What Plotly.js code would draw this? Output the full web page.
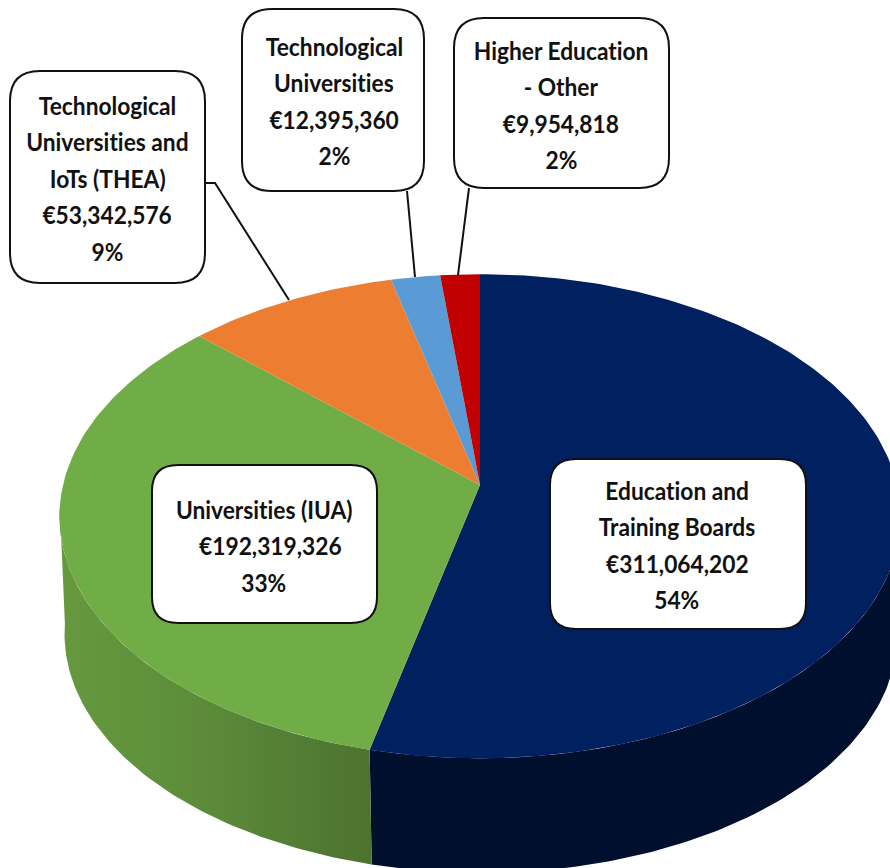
<!DOCTYPE html>
<html><head><meta charset="utf-8">
<script src="https://cdn.plot.ly/plotly-3.0.1.min.js"></script>
<style>html,body{margin:0;padding:0;background:#fff;overflow:hidden} text.annotation-text{font-variant-ligatures:none}</style>
</head><body><div id="chart" style="width:890px;height:868px"></div>
<script>
// ---- data ----
const categories = ["Education and Training Boards","Universities (IUA)","Technological Universities and IoTs (THEA)","Technological Universities","Higher Education - Other"];
const values = [311064202,192319326,53342576,12395360,9954818];
const labelLines = [["Education and","Training Boards"],["Universities (IUA)"],["Technological","Universities and","IoTs (THEA)"],["Technological","Universities"],["Higher Education","- Other"]];
// ---- styles ----
const topColors = ["#002060","#70AD47","#ED7D31","#5B9BD5","#C00000"];
const FONT = {family:'Lato,"Liberation Sans",sans-serif',size:25,color:"#111",weight:700};
const TEXT_SQUEEZE = 0.91;
// ---- layout of the callouts ----
const boxes = [[550,459,806,629],[152,465,377,623],[10,71,205,283],[242,9,424,191],[454,18,669,188]];
const lineCx = [677,264,107,334,561];
const lineFirstY = [490,509,105,46,50];
const lineGap = 36.4;
const leaders = [null,null,[[205,183],[215,183],[289,300]],[[407,191],[415,277]],[[469,188],[458,275]]];

// projection of the tilted disc onto the page
const K=0.129, P={cx:480,cy:485,a:417,b:238};
const B={cx:481,cy:603,a:413,b:235};
function proj(deg,q){const t=deg*Math.PI/180,u=Math.sin(t),v=Math.cos(t),w=1+K*v;return [q.cx+q.a*u/w,q.cy-q.b*v/w];}
const total=values.reduce((s,v)=>s+v,0);
const cum=[0];values.forEach(v=>cum.push(cum[cum.length-1]+v));
const angle=i=>cum[i]/total*360;
function arc(a0,a1,q){const n=Math.max(4,Math.ceil(Math.abs(a1-a0)));const o=[];for(let i=0;i<=n;i++)o.push(proj(a0+(a1-a0)*i/n,q));return o;}
function poly(pts,extra){return Object.assign({x:pts.map(p=>p[0]),y:pts.map(p=>p[1]),type:"scatter",mode:"lines",line:{width:0},fill:"toself",hoverinfo:"skip",showlegend:false},extra);}
const traces=[];
const wallEnd=265;
const navyWall=arc(angle(0)+95,angle(1),P).concat(arc(angle(1),angle(0)+95,B));
traces.push(poly(navyWall,{fillcolor:"#000F2E"}));
const greenWall=arc(angle(1),wallEnd,P).concat(arc(wallEnd,angle(1),B));
traces.push(poly(greenWall,{fillcolor:"#5E8F3C",fillgradient:{type:"horizontal",colorscale:[[0,"#66993F"],[0.45,"#5C8C39"],[1,"#4D7230"]]}}));
values.forEach((v,i)=>{
  const pts=[[P.cx,P.cy]].concat(arc(angle(i),angle(i+1),P));pts.push([P.cx,P.cy]);
  traces.push(poly(pts,{fillcolor:topColors[i],name:categories[i]}));
});
function rrect(b,r){const [x0,y0,x1,y1]=b;return `M${x0+r},${y0} L${x1-r},${y0} Q${x1},${y0} ${x1},${y0+r} L${x1},${y1-r} Q${x1},${y1} ${x1-r},${y1} L${x0+r},${y1} Q${x0},${y1} ${x0},${y1-r} L${x0},${y0+r} Q${x0},${y0} ${x0+r},${y0} Z`;}
const shapes=[],annotations=[];
const euro=v=>"€"+v.toLocaleString("en-US");
values.forEach((v,i)=>{
  if(leaders[i]){shapes.push({type:"path",layer:"above",path:"M"+leaders[i].map(p=>p.join(",")).join(" L"),line:{color:"#111",width:2}});}
  shapes.push({type:"path",layer:"above",path:rrect(boxes[i],i<2?26:30),fillcolor:"#fff",line:{color:"#111",width:2}});
  const lines=labelLines[i].concat([euro(v),Math.round(v/total*100)+"%"]);
  lines.forEach((t,j)=>{
    const dx=(i===1&&j===1)?6:0;
    annotations.push({x:lineCx[i]+dx,y:lineFirstY[i]+j*lineGap,xref:"x",yref:"y",text:t,showarrow:false,xanchor:"center",yanchor:"middle",font:FONT});
  });
});
Plotly.newPlot("chart",traces,{
  width:890,height:868,margin:{l:0,r:0,t:0,b:0},paper_bgcolor:"#fff",plot_bgcolor:"#fff",showlegend:false,
  xaxis:{range:[0,890],visible:false,fixedrange:true},
  yaxis:{range:[868,0],visible:false,fixedrange:true},
  shapes,annotations
},{displayModeBar:false,staticPlot:true}).then(gd=>{
  // Calibri-like narrow setting: condense each real text line about its own centre
  gd.querySelectorAll("text.annotation-text").forEach(t=>{
    t.style.fontVariantLigatures="none";
    t.setAttribute("textLength",(t.getComputedTextLength()*TEXT_SQUEEZE).toFixed(1));
    t.setAttribute("lengthAdjust","spacingAndGlyphs");
  });
});
</script></body></html>
